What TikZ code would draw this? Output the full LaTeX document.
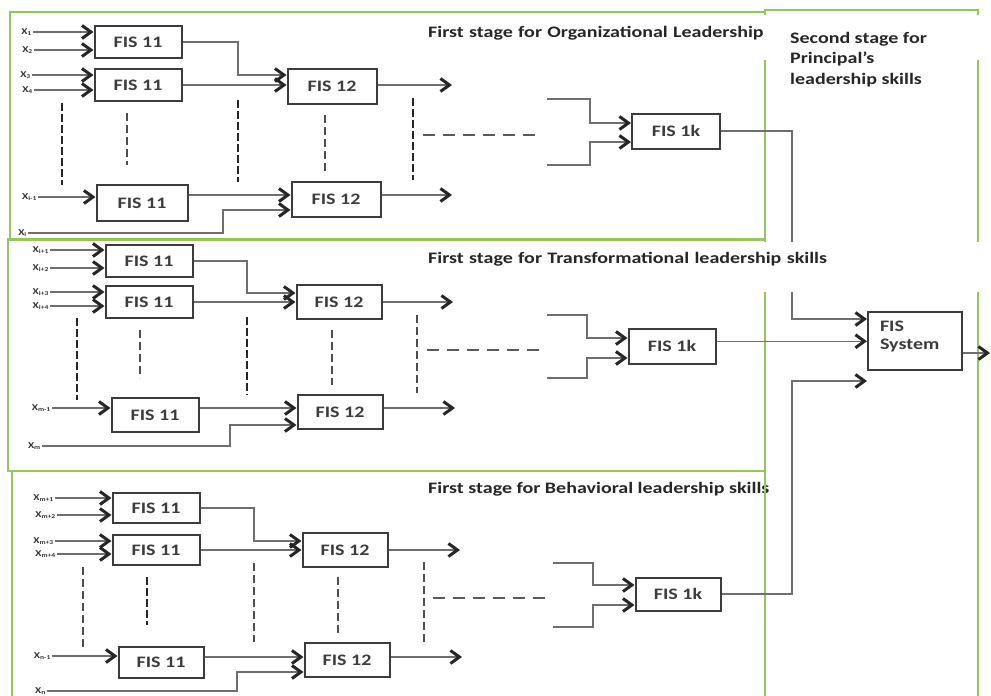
\documentclass[tikz,border=0pt]{standalone}
\usepackage{fontspec}
\setmainfont{Carlito}[FakeStretch=1.25]
\usetikzlibrary{arrows.meta}
\definecolor{panelgreen}{RGB}{146,200,90}
\definecolor{linegray}{RGB}{110,110,110}
\definecolor{boxgray}{RGB}{60,60,60}
\tikzset{
	fis/.style={draw=boxgray, line width=2pt, fill=white, minimum width=87pt, minimum height=32pt, inner sep=0pt, font=\fontsize{16}{18}\selectfont\bfseries, text=boxgray},
	conn/.style={draw=linegray, line width=1.4pt},
	arr/.style={conn, -{Straight Barb[length=9pt,width=13pt,line width=3pt,color=black!85]}},
	inlab/.style={inner sep=1pt, anchor=east, font=\fontsize{9}{10}\selectfont\bfseries, text=black!80},
	vdash/.style={line width=2.6pt, black!85, dash pattern=on 8pt off 3pt},
	vdashthin/.style={line width=1.4pt, black!70, dash pattern=on 8pt off 4pt},
	hdash/.style={line width=1.8pt, black!65, dash pattern=on 12pt off 8pt},
	panel/.style={draw=panelgreen, line width=2.2pt},
	stage/.style={font=\fontsize{16}{20.5}\selectfont\bfseries, text=black!85, inner sep=0pt}
}
\begin{document}
\begin{tikzpicture}[x=1pt, y=-1pt]
	\useasboundingbox (0,0) rectangle (991,696);
	% title of the third stage lies under the green line
	\node (t3) at (428,493)	[stage, anchor=base west]	{First stage for Behavioral leadership skills};
	% panels
	\draw[panel] (10,12) rectangle (765,240);
	\draw[panel] (8,239) rectangle (765,471);
	\draw[panel] (12,471) rectangle (765,705);
	\draw[panel] (765,10) rectangle (978,705);
	% dashed gaps
	\draw[vdash] (62,103) -- (62,185);
	\draw[vdashthin] (127,113) -- (127,165);
	\draw[vdash] (238,100) -- (238,182);
	\draw[vdashthin] (325,115) -- (325,175);
	\draw[vdash] (413,98) -- (413,180);
	\draw[hdash] (423,135) -- (542,135);
	\draw[vdash] (77,318) -- (77,400);
	\draw[vdashthin] (140,330) -- (140,378);
	\draw[vdash] (247,317) -- (247,395);
	\draw[vdashthin] (332,330) -- (332,385);
	\draw[vdashthin] (417,315) -- (417,393);
	\draw[hdash] (427,350) -- (545,350);
	\draw[vdashthin] (83,567) -- (83,647);
	\draw[vdash] (147,577) -- (147,625);
	\draw[vdashthin] (254,563) -- (254,642);
	\draw[vdashthin] (338,577) -- (338,633);
	\draw[vdashthin] (424,562) -- (424,642);
	\draw[hdash] (433,598) -- (552,598);
	% first panel
	\node (p1a) at (138,42)		[fis]	{FIS 11};
	\node (p1b) at (138,85)		[fis]	{FIS 11};
	\node (p1c) at (142,203)	[fis, minimum width=91pt, minimum height=36pt]	{FIS 11};
	\node (p1d) at (332,86)		[fis, minimum width=89pt, minimum height=35pt]	{FIS 12};
	\node (p1e) at (336,199)	[fis, minimum width=89pt, minimum height=35pt]	{FIS 12};
	\node (p1k) at (676,131)	[fis, minimum width=88pt, minimum height=35pt]	{FIS 1k};
	\node (p1x1) at (33,32)		[inlab]	{X\textsubscript{1}};
	\node (p1x2) at (34,50)		[inlab]	{X\textsubscript{2}};
	\node (p1x3) at (32,75)		[inlab]	{X\textsubscript{3}};
	\node (p1x4) at (34,90)		[inlab]	{X\textsubscript{4}};
	\node (p1xi) at (38,197)	[inlab]	{X\textsubscript{i-1}};
	\node (p1xn) at (28,233)	[inlab]	{X\textsubscript{i}};
	% second panel
	\node (p2a) at (149,261)	[fis]	{FIS 11};
	\node (p2b) at (149,302)	[fis]	{FIS 11};
	\node (p2c) at (155,415)	[fis, minimum height=34pt]	{FIS 11};
	\node (p2d) at (339,302)	[fis, minimum width=85pt, minimum height=34pt]	{FIS 12};
	\node (p2e) at (340,412)	[fis, minimum width=85pt, minimum height=34pt]	{FIS 12};
	\node (p2k) at (672,346)	[fis, minimum width=87pt, minimum height=35pt]	{FIS 1k};
	\node (p2x1) at (50,250)	[inlab]	{X\textsubscript{i+1}};
	\node (p2x2) at (50,268)	[inlab]	{X\textsubscript{i+2}};
	\node (p2x3) at (50,292)	[inlab]	{X\textsubscript{i+3}};
	\node (p2x4) at (50,306)	[inlab]	{X\textsubscript{i+4}};
	\node (p2xi) at (52,408)	[inlab]	{X\textsubscript{m-1}};
	\node (p2xn) at (42,446)	[inlab]	{X\textsubscript{m}};
	% third panel
	\node (p3a) at (156,508)	[fis, minimum height=30pt]	{FIS 11};
	\node (p3b) at (156,550)	[fis, minimum height=30pt]	{FIS 11};
	\node (p3c) at (161,662)	[fis, minimum width=85pt, minimum height=31pt]	{FIS 11};
	\node (p3d) at (345,550)	[fis, minimum width=85pt, minimum height=34pt]	{FIS 12};
	\node (p3e) at (347,660)	[fis, minimum width=85pt, minimum height=34pt]	{FIS 12};
	\node (p3k) at (678,594)	[fis, minimum width=85pt, minimum height=33pt]	{FIS 1k};
	\node (p3x1) at (55,498)	[inlab]	{X\textsubscript{m+1}};
	\node (p3x2) at (57,515)	[inlab]	{X\textsubscript{m+2}};
	\node (p3x3) at (55,541)	[inlab]	{X\textsubscript{m+3}};
	\node (p3x4) at (57,554)	[inlab]	{X\textsubscript{m+4}};
	\node (p3xi) at (52,656)	[inlab]	{X\textsubscript{n-1}};
	\node (p3xn) at (47,691)	[inlab]	{X\textsubscript{n}};
	% second stage
	\node (sys) at (867,311)	[fis, anchor=north west, minimum width=0pt, minimum height=0pt, text width=70pt, align=left, inner xsep=12pt, inner ysep=9pt, text depth=30pt]	{FIS\\System};
	% first panel connectors
	\draw[arr] (p1x1) -- (p1x1 -| p1a.west);
	\draw[arr] (p1x2) -- (p1x2 -| p1a.west);
	\draw[arr] (p1x3) -- (p1x3 -| p1b.west);
	\draw[arr] (p1x4) -- (p1x4 -| p1b.west);
	\draw[arr] (p1xi) -- (p1xi -| p1c.west);
	\coordinate (p1j1) at (238,75);
	\draw[arr] (p1a) -| (p1j1) -- (p1j1 -| p1d.west);
	\draw[arr] (p1b) -- (p1b -| p1d.west);
	\draw[arr] ([yshift=8pt]p1c.east) -- ([yshift=8pt]p1c.east -| p1e.west);
	\coordinate (p1j2) at (223,210);
	\draw[arr] (p1xn) -| (p1j2) -- (p1j2 -| p1e.west);
	\coordinate (p1o1) at (452,85);
	\coordinate (p1o2) at (452,195);
	\draw[arr] (p1d.east |- p1o1) -- (p1o1);
	\draw[arr] (p1e.east |- p1o2) -- (p1o2);
	\coordinate (p1u) at (547,99);
	\coordinate (p1uc) at (590,123);
	\coordinate (p1l) at (547,165);
	\coordinate (p1lc) at (590,142);
	\draw[arr] (p1u) -| (p1uc) -- (p1uc -| p1k.west);
	\draw[arr] (p1l) -| (p1lc) -- (p1lc -| p1k.west);
	% second panel connectors
	\draw[arr] (p2x1) -- (p2x1 -| p2a.west);
	\draw[arr] (p2x2) -- (p2x2 -| p2a.west);
	\draw[arr] (p2x3) -- (p2x3 -| p2b.west);
	\draw[arr] (p2x4) -- (p2x4 -| p2b.west);
	\draw[arr] (p2xi) -- (p2xi -| p2c.west);
	\coordinate (p2j1) at (247,293);
	\draw[arr] (p2a) -| (p2j1) -- (p2j1 -| p2d.west);
	\draw[arr] (p2b) -- (p2b -| p2d.west);
	\draw[arr] ([yshift=7pt]p2c.east) -- ([yshift=7pt]p2c.east -| p2e.west);
	\coordinate (p2j2) at (230,425);
	\draw[arr] (p2xn) -| (p2j2) -- (p2j2 -| p2e.west);
	\coordinate (p2o1) at (453,302);
	\coordinate (p2o2) at (455,408);
	\draw[arr] (p2d.east |- p2o1) -- (p2o1);
	\draw[arr] (p2e.east |- p2o2) -- (p2o2);
	\coordinate (p2u) at (547,315);
	\coordinate (p2uc) at (587,338);
	\coordinate (p2l) at (547,378);
	\coordinate (p2lc) at (587,358);
	\draw[arr] (p2u) -| (p2uc) -- (p2uc -| p2k.west);
	\draw[arr] (p2l) -| (p2lc) -- (p2lc -| p2k.west);
	% third panel connectors
	\draw[arr] (p3x1) -- (p3x1 -| p3a.west);
	\draw[arr] (p3x2) -- (p3x2 -| p3a.west);
	\draw[arr] (p3x3) -- (p3x3 -| p3b.west);
	\draw[arr] (p3x4) -- (p3x4 -| p3b.west);
	\draw[arr] (p3xi) -- (p3xi -| p3c.west);
	\coordinate (p3j1) at (254,541);
	\draw[arr] (p3a) -| (p3j1) -- (p3j1 -| p3d.west);
	\draw[arr] (p3b) -- (p3b -| p3d.west);
	\draw[arr] ([yshift=5pt]p3c.east) -- ([yshift=5pt]p3c.east -| p3e.west);
	\coordinate (p3j2) at (237,672);
	\draw[arr] (p3xn) -| (p3j2) -- (p3j2 -| p3e.west);
	\coordinate (p3o1) at (460,550);
	\coordinate (p3o2) at (462,657);
	\draw[arr] (p3d.east |- p3o1) -- (p3o1);
	\draw[arr] (p3e.east |- p3o2) -- (p3o2);
	\coordinate (p3u) at (553,563);
	\coordinate (p3uc) at (593,585);
	\coordinate (p3l) at (553,627);
	\coordinate (p3lc) at (593,605);
	\draw[arr] (p3u) -| (p3uc) -- (p3uc -| p3k.west);
	\draw[arr] (p3l) -| (p3lc) -- (p3lc -| p3k.west);
	% into the second stage
	\coordinate (s1) at (792,319);
	\coordinate (s3) at (792,381);
	\coordinate (sout) at (990,353);
	\draw[arr] (p1k) -| (s1) -- (s1 -| sys.west);
	\draw[arr] (p2k.east |- sys) -- (sys);
	\draw[arr] (p3k) -| (s3) -- (s3 -| sys.west);
	\draw[arr] (sys.east |- sout) -- (sout);
	% titles on white
	\node (t1) at (428,37)	[stage, anchor=base west, fill=white, text width=555pt, text height=19pt, text depth=20pt, inner ysep=3pt]	{First stage for Organizational Leadership};
	\node (t2) at (428,263)	[stage, anchor=base west, fill=white, text width=555pt, text height=18pt, text depth=26pt, inner ysep=3pt]	{First stage for Transformational leadership skills};
	\node (t0) at (790,32)	[stage, anchor=north west, align=left]	{Second stage for\\Principal’s\\leadership skills};
\end{tikzpicture}
\end{document}
